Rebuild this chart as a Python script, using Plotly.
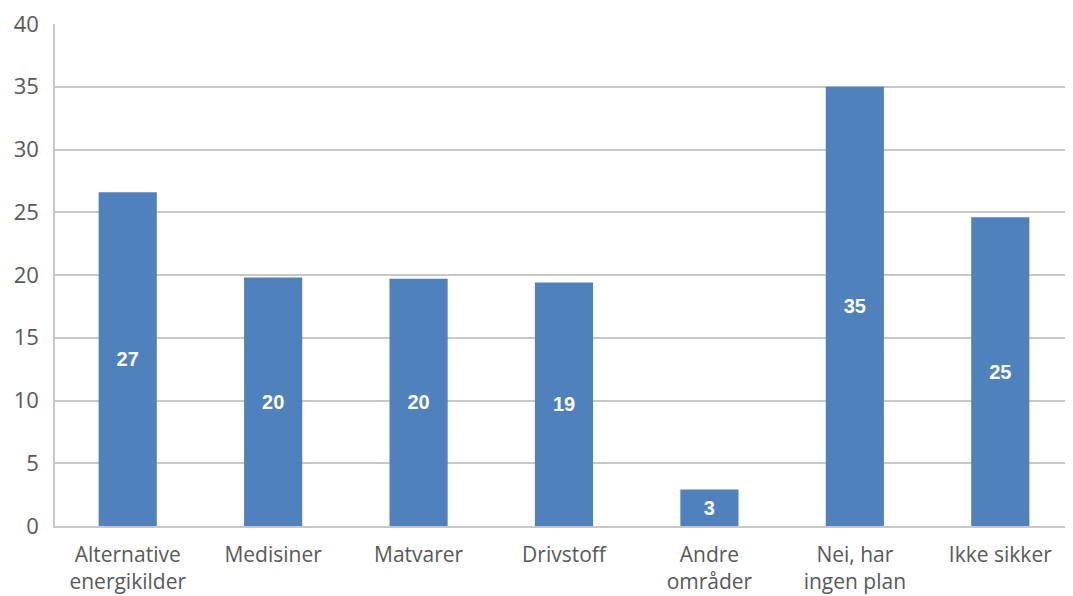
import plotly.graph_objects as go

categories = ["Alternative<br>energikilder", "Medisiner", "Matvarer", "Drivstoff",
              "Andre<br>områder", "Nei, har<br>ingen plan", "Ikke sikker"]
values = [26.6, 19.8, 19.7, 19.4, 2.9, 35.0, 24.6]
labels = [f"{round(v):d}" for v in values]
y_ticks = [0, 5, 10, 15, 20, 25, 30, 35, 40]

fig = go.Figure(go.Bar(
    x=categories, y=values, text=labels,
    textposition="inside", insidetextanchor="middle",
    textfont=dict(family="Liberation Sans", size=20, color="white", weight="bold"),
    marker=dict(color="#4F81BD", line=dict(width=0)),
    textangle=0,
))
fig.update_layout(
    width=1065, height=588,
    margin=dict(l=47, r=0, t=16, b=70),
    plot_bgcolor="white", paper_bgcolor="white",
    bargap=0.6, showlegend=False,
    font=dict(family="Open Sans", size=20, color="#595959"),
)
fig.update_yaxes(range=[0, 40], tickvals=y_ticks, showgrid=True, gridcolor="#C8C8C8",
                 gridwidth=1.5, showline=True, linecolor="#C8C8C8", linewidth=1.5,
                 zeroline=False, ticks="", ticklabelstandoff=10, automargin=False,
                 ticklabeloverflow="allow",
                 tickfont=dict(size=22, color="#595959"))
fig.update_xaxes(showline=True, linecolor="#C8C8C8", linewidth=1.5, ticks="",
                 automargin=False, ticklabelstandoff=9, ticklabeloverflow="allow",
                 tickfont=dict(size=21, color="#595959"))
fig.write_html("out.html")
